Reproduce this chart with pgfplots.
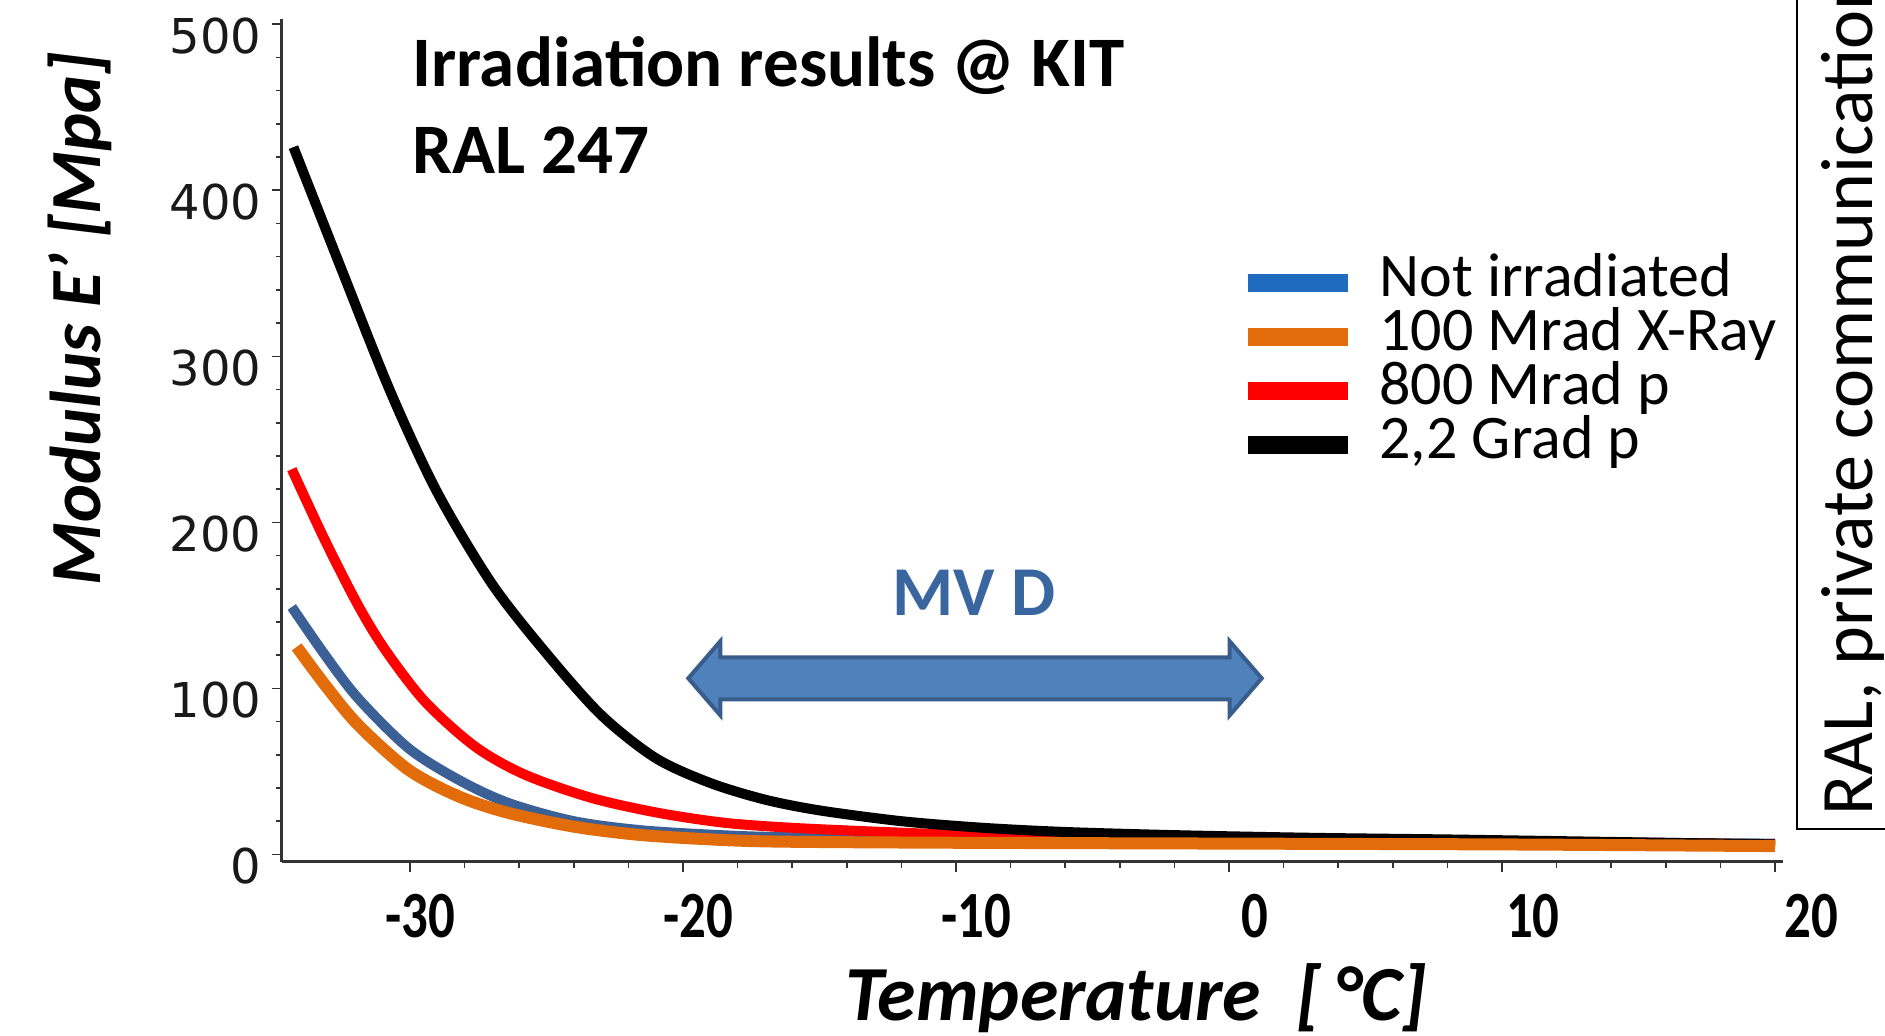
\documentclass[border=0pt]{standalone}
\usepackage{fontspec}
\setmainfont{Carlito}
\newfontfamily\tickfont{DejaVu Sans}
\newfontfamily\condfont[FakeStretch=0.8]{Carlito}
\usepackage{pgfplots}
\pgfplotsset{compat=1.18}

\definecolor{notirr}{HTML}{3A6096}
\definecolor{notirrleg}{HTML}{1F6BBF}
\definecolor{xray}{HTML}{E36C0A}
\definecolor{arrowfill}{HTML}{4F81BD}
\definecolor{arrowdraw}{HTML}{385D8A}
\definecolor{mvd}{HTML}{3A66A0}

\begin{document}
\begin{tikzpicture}
\path[use as bounding box] (-140.85pt,-87.15pt) rectangle (801.65pt,430.85pt);
\clip (-140.85pt,-87.15pt) rectangle (801.65pt,430.85pt);
\begin{axis}[
    at={(0pt,0pt)}, anchor=south west,
    scale only axis, width=750.75pt, height=421.2pt,
    xmin=-34.7, xmax=20.3, ymin=-4.4, ymax=503,
    axis lines=left,
    axis line style={-, line width=1.3pt, color=black!80},
    xtick={-30,-20,...,20}, xticklabels={-30,-20,-10,0,10,20},
    ytick={0,100,...,500}, yticklabels={0,100,200,300,400,500},
    minor x tick num=4, minor y tick num=4,
    tick align=outside,
    major tick length=5pt, minor tick length=3pt,
    tick style={line width=0.8pt, color=black!80},
    xticklabel style={font=\condfont\bfseries\fontsize{33}{33}\selectfont, anchor=center,
        yshift=-22pt, xshift={(5+2.6*\ticknum)*1pt}},
    yticklabel style={font=\tickfont\fontsize{24}{24}\selectfont, color=black!90, anchor=east,
        inner sep=0pt, xshift=-5pt, yshift=-6pt},
    legend style={at={(axis description cs:0.633,0.724)}, anchor=north west,
        draw=none, fill=none, font=\fontsize{31}{31}\selectfont, row sep=0pt,
        nodes={inner sep=0pt, text height=20pt, text depth=7pt},
        /tikz/every odd column/.append style={column sep=11.5pt}},
    legend cell align=left,
    legend image code/.code={\draw[#1, line width=9pt] (0pt,0pt) -- (50pt,0pt);},
]
\addlegendimage{notirrleg}\addlegendentry{Not irradiated}
\addlegendimage{xray}\addlegendentry{100 Mrad X-Ray}
\addlegendimage{red}\addlegendentry{800 Mrad p}
\addlegendimage{black}\addlegendentry{2,2 Grad p}

% Not irradiated
\addplot[notirr, line width=5pt, smooth, forget plot] coordinates {
    (-34.33,149) (-33.11,120) (-31.9,94) (-30.06,64) (-28.23,45) (-26.4,31)
    (-24,20) (-21.5,14.5) (-18.5,11.5) (-16,10.3) (-10,9.5) (0,8.5) (10,7.5) (20,6.5)
};
% 800 Mrad p
\addplot[red, line width=5pt, smooth, forget plot] coordinates {
    (-34.33,232) (-33.11,189) (-31.9,150) (-30.9,123) (-29.45,92) (-27.62,65)
    (-25.79,48) (-23.35,34) (-20.9,25) (-18.46,19) (-16,16) (-12.8,13.6)
    (-10,12) (-5,10.5) (0,9) (5,8) (10,7.5) (15,7) (20,6)
};
% 2,2 Grad p
\addplot[black, line width=5pt, smooth, forget plot] coordinates {
    (-34.27,426) (-32.5,352) (-30.7,278) (-29,218) (-27,163) (-25,121)
    (-23,84) (-21,58) (-19,43) (-17,33) (-15,26.5) (-12,20) (-9,16)
    (-6,13.5) (-2,11.6) (3,10) (8,9) (14,7.5) (20,6)
};
% 100 Mrad X-Ray
\addplot[xray, line width=6pt, smooth, forget plot] coordinates {
    (-34.15,125) (-33.11,102) (-31.9,78) (-30.06,51) (-28.23,35) (-26.4,25)
    (-23.96,16.6) (-21.5,11.6) (-18.46,8.6) (-16,7.6) (-10,7) (0,6.5)
    (10,6) (20,5)
};
\end{axis}

% texts round the axis
\node[anchor=base west, inner sep=0pt, font=\bfseries\fontsize{35.5}{35.5}\selectfont] at (65pt,387.4pt) {Irradiation results @ KIT};
\node[anchor=base west, inner sep=0pt, font=\bfseries\fontsize{35.5}{35.5}\selectfont] at (65pt,344pt) {RAL 247};
\node[rotate=90, font=\bfseries\itshape\fontsize{36}{36}\selectfont] at (-101pt,271.5pt) {Modulus E’ [Mpa]};
\node[font=\bfseries\itshape\fontsize{39}{39}\selectfont] at (427.15pt,-68pt) {Temperature\ \ [\,°C]};

% MV D range
\node[text=mvd, font=\bfseries\fontsize{35}{35}\selectfont] at (346.15pt,134.35pt) {MV D};
\coordinate (L) at (203.3pt,91.7pt);
\coordinate (R) at (490pt,91.7pt);
\filldraw[fill=arrowfill, draw=arrowdraw, line width=2pt, line join=miter]
    (L) -- ([shift={(16pt,18.5pt)}]L) -- ([shift={(16pt,10.5pt)}]L)
    -- ([shift={(-16pt,10.5pt)}]R) -- ([shift={(-16pt,18.5pt)}]R) -- (R)
    -- ([shift={(-16pt,-18.5pt)}]R) -- ([shift={(-16pt,-10.5pt)}]R)
    -- ([shift={(16pt,-10.5pt)}]L) -- ([shift={(16pt,-18.5pt)}]L) -- cycle;

% source box
\draw[line width=1pt] (850pt,16.1pt) -- (757.65pt,16.1pt) -- (757.65pt,460pt);
\node[rotate=90, anchor=base west, inner sep=0pt, font=\fontsize{37}{37}\selectfont] at (795.5pt,23pt) {RAL, private communication};
\end{tikzpicture}
\end{document}
